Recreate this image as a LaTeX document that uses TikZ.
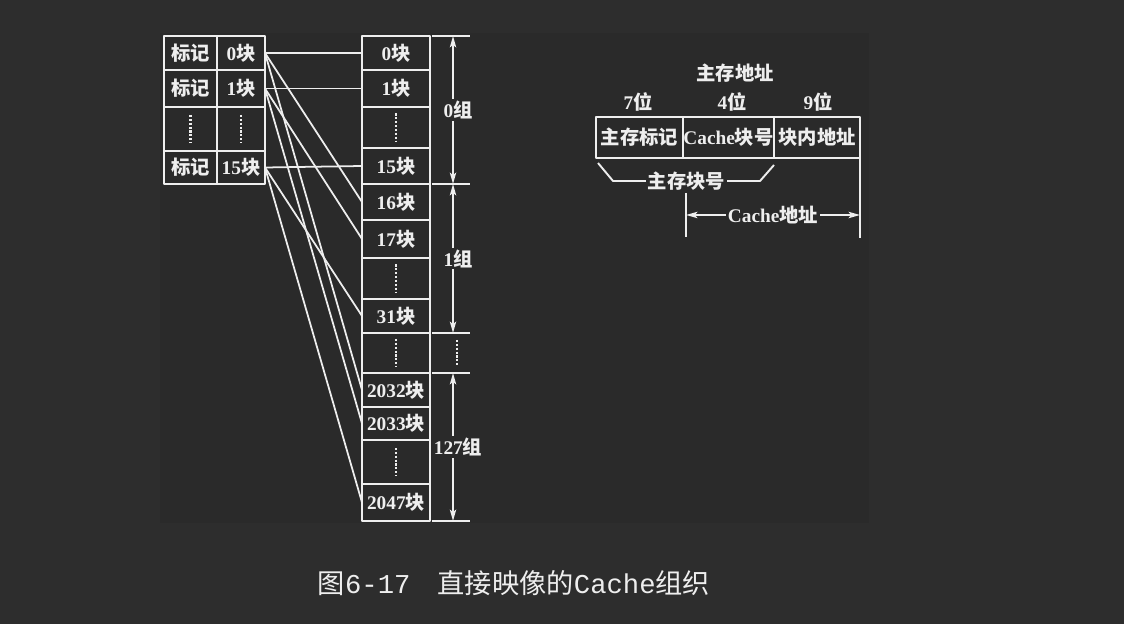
\documentclass[tikz,border=0pt]{standalone}
\usepackage{fontspec}
\setmainfont{Liberation Serif}
\newfontfamily\cjk{Noto Sans CJK SC}
\newfontfamily\capmono{Liberation Mono}
\usetikzlibrary{arrows.meta}
\definecolor{pagebg}{HTML}{2D2D2D}
\definecolor{figbg}{HTML}{2A2A2A}
\definecolor{ink}{HTML}{EEEEEE}
\newcommand{\kuai}[1]{#1{\cjk 块}}
\tikzset{
  cell/.style={draw=ink, line width=1.1pt, inner sep=0pt, outer sep=0pt},
  lbl/.style={fill=figbg, inner sep=1pt, xshift=0.1cm},
  vdots/.style={line width=1.6pt, dash pattern=on 1.2pt off 1pt},
}
\begin{document}
\begin{tikzpicture}[x=0.02cm, y=-0.02cm, font=\fontsize{11}{13}\selectfont\bfseries, color=ink, line width=1.1pt, line join=round, >={Stealth[length=6.5pt,width=3.6pt,inset=1.5pt]}]
\useasboundingbox (0,0) rectangle (1124,624);
\fill[pagebg] (0,0) rectangle (1124,624);
\fill[figbg] (160,33) rectangle (869,523);
% tag table
\foreach \t/\b/\n in {36/70/0, 70/107/1, 151/184/15} {
  \pgfmathsetmacro\h{(\b-\t)*0.02}
  \pgfmathsetmacro\c{(\t+\b)/2}
  \node[cell, minimum width=1.06cm, minimum height=\h cm] (t\n) at (190.5,\c) {\cjk 标记};
  \node[cell, minimum width=0.96cm, minimum height=\h cm] (l\n) at (241,\c) {\kuai{\n}};
}
\node[cell, minimum width=1.06cm, minimum height=0.88cm] (td) at (190.5,129) {};
\node[cell, minimum width=0.96cm, minimum height=0.88cm] (ld) at (241,129) {};
\draw[vdots] (td.center) +(0,-14) -- +(0,14);
\draw[vdots] (ld.center) +(0,-14) -- +(0,14);
% cache column
\foreach \t/\b/\n in {36/70/0, 70/107/1, 148/184/15, 184/220/16, 220/258/17, 299/333/31, 373/407/2032, 407/440/2033, 484/521/2047} {
  \pgfmathsetmacro\h{(\b-\t)*0.02}
  \pgfmathsetmacro\c{(\t+\b)/2}
  \node[cell, minimum width=1.36cm, minimum height=\h cm] (m\n) at (396,\c) {\kuai{\n}};
}
\foreach \t/\b/\n in {107/148/a, 258/299/b, 333/373/c, 440/484/d} {
  \pgfmathsetmacro\h{(\b-\t)*0.02}
  \pgfmathsetmacro\c{(\t+\b)/2}
  \node[cell, minimum width=1.36cm, minimum height=\h cm] (md\n) at (396,\c) {};
  \draw[vdots] (md\n.center) +(0,-14) -- +(0,14);
}
\foreach \a/\b in {0/0, 0/16, 0/2032, 1/1, 1/17, 1/2033, 15/15, 15/31, 15/2047}
  \draw[line width=1pt] (l\a.east) -- (m\b.west);
% groups
\foreach \n/\y in {0/36, 1/184, 2/333, 3/373, 4/521} {
  \coordinate (s\n) at (453,\y);
  \draw (s\n) +(-21,0) -- +(17,0);
}
\draw[<->] (s0) -- node[lbl]{0{\cjk 组}} (s1);
\draw[<->] (s1) -- node[lbl]{1{\cjk 组}} (s2);
\draw[<->] (s3) -- node[lbl]{127{\cjk 组}} (s4);
\draw[vdots] (457,353) +(0,-13) -- +(0,13);
% address format
\node (addr) at (735,73) {\cjk 主存地址};
\node (w7) at (638,102) {7{\cjk 位}};
\node (w4) at (732,102) {4{\cjk 位}};
\node (w9) at (818,102) {9{\cjk 位}};
\node[cell, minimum width=1.74cm, minimum height=0.82cm] (f1) at (639.5,137.5) {\cjk 主存标记};
\node[cell, minimum width=1.82cm, minimum height=0.82cm] (f2) at (728.5,137.5) {Cache{\cjk 块号}};
\node[cell, minimum width=1.72cm, minimum height=0.82cm] (f3) at (817,137.5) {\cjk 块内地址};
\coordinate (p1) at (598,163);
\coordinate (p2) at (613,181);
\coordinate (p3) at (760,181);
\coordinate (p4) at (774,165);
\draw (p1) -- (p2) -- node[lbl, xshift=-0.1cm]{\cjk 主存块号} (p3) -- (p4);
\coordinate (e1) at (860,238);
\draw (f3.south east) -- (e1);
\coordinate (c1) at (686,193);
\coordinate (c2) at (686,237);
\draw (c1) -- (c2);
\coordinate (ca) at (686,215);
\coordinate (cb) at (860,215);
\draw[<->] (ca) -- node[lbl, xshift=-0.1cm]{Cache{\cjk 地址}} (cb);
% caption
\node[font=\fontsize{15.5}{18}\selectfont] (cap) at (514,583) {{\cjk 图}{\capmono 6-17}\quad{\cjk 直接映像的}{\capmono Cache}{\cjk 组织}};
\end{tikzpicture}
\end{document}
